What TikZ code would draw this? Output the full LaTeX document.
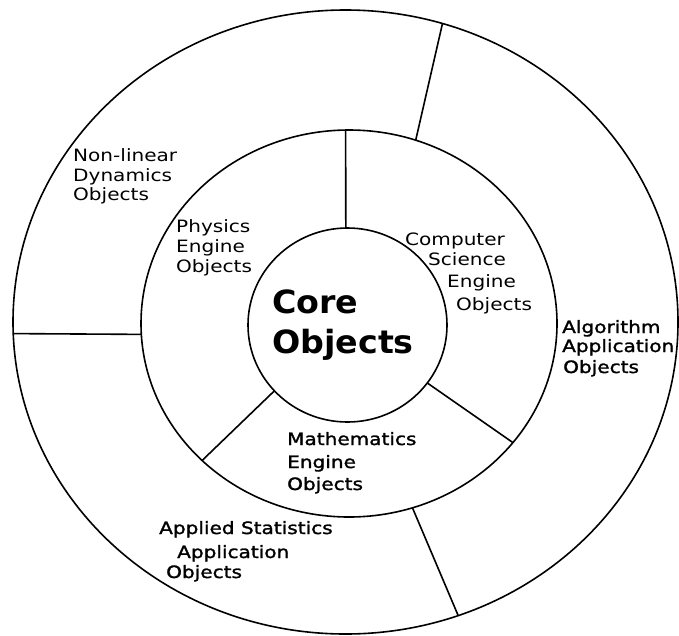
\documentclass[tikz,border=0pt]{standalone}
\usepackage{fontspec}
\usetikzlibrary{shapes.geometric}
\newfontfamily\lblfont[FakeStretch=1.18]{DejaVu Sans}
\newfontfamily\lblboldfont[FakeStretch=1.18,FakeBold=1.5]{DejaVu Sans}
\newfontfamily\corefont[FakeStretch=1.04]{DejaVu Sans}
\begin{document}
\begin{tikzpicture}[x=1pt,y=-1pt,
  ring/.style={draw=black, line width=1.6pt, ellipse, inner sep=0pt, outer sep=0pt},
  spoke/.style={draw=black, line width=1.6pt},
  lbl/.style={anchor=base west, inner sep=0pt, font=\lblfont\fontsize{17}{20}\selectfont},
  lblb/.style={anchor=base west, inner sep=0pt, font=\lblboldfont\fontsize{17}{20}\selectfont},
  corelbl/.style={anchor=base west, inner sep=0pt, font=\corefont\bfseries\fontsize{32}{38}\selectfont}]
\useasboundingbox (0,0) rectangle (679,635);
% rings
\node[ring, minimum width=665pt, minimum height=624pt] (outer) at (345.5,322) {};
\node[ring, minimum width=416pt, minimum height=387pt] (mid) at (349,323.5) {};
\node[ring, minimum width=199pt, minimum height=194pt] (core) at (347.5,325) {};
% spokes
\draw[spoke] (core.91.5) -- (mid.91.2);
\draw[spoke] (mid.70.9) -- (outer.72.0);
\draw[spoke] (mid.183.4) -- (outer.182.4);
\draw[spoke] (core.222.3) -- (mid.223.2);
\draw[spoke] (core.324.9) -- (mid.324.8);
\draw[spoke] (mid.289.9) -- (outer.291.85);
% core label
\node[corelbl] (core1) at (272,313) {Core};
\node[corelbl] (core2) at (272,353) {Objects};
% non-linear dynamics
\node[lbl] (nl1) at (73,161) {Non-linear};
\node[lbl] (nl2) at (73,181) {Dynamics};
\node[lbl] (nl3) at (73,200) {Objects};
% physics
\node[lbl] (ph1) at (176,232) {Physics};
\node[lbl] (ph2) at (176,252) {Engine};
\node[lbl] (ph3) at (176,272) {Objects};
% computer science
\node[lbl] (cs1) at (405,245) {Computer};
\node[lbl] (cs2) at (428,265) {Science};
\node[lbl] (cs3) at (447,287) {Engine};
\node[lbl] (cs4) at (456,310) {Objects};
% algorithm
\node[lblb] (al1) at (562,333) {Algorithm};
\node[lblb] (al2) at (562,352) {Application};
\node[lblb] (al3) at (563,373) {Objects};
% mathematics
\node[lblb] (ma1) at (287,445) {Mathematics};
\node[lblb] (ma2) at (287,468) {Engine};
\node[lblb] (ma3) at (287,490) {Objects};
% applied statistics
\node[lblb] (as1) at (159,534) {Applied Statistics};
\node[lblb] (as2) at (177,558) {Application};
\node[lblb] (as3) at (166,578) {Objects};
\end{tikzpicture}
\end{document}
